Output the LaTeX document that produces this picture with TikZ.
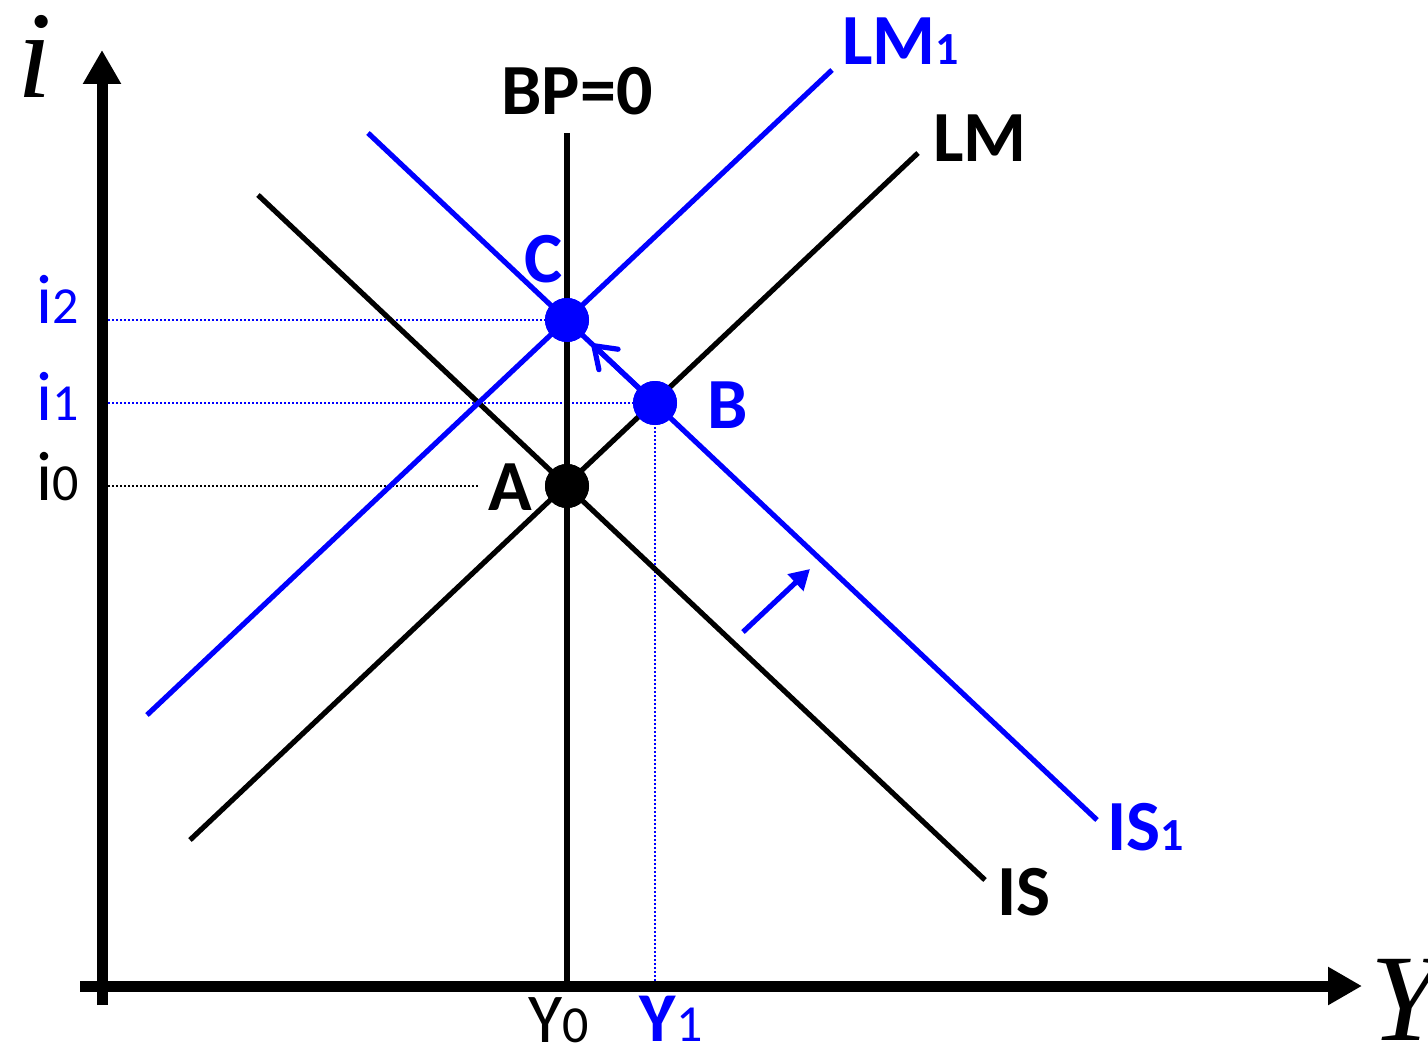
\documentclass[tikz,border=0pt]{standalone}
\usepackage{fontspec}
\setmainfont{Carlito}
\newfontfamily\serifit{Liberation Serif}
\usetikzlibrary{arrows.meta}
\newcommand{\bdg}[1]{{\fontsize{23}{23}\selectfont #1}}
\newcommand{\rdg}[1]{{\fontsize{26}{26}\selectfont\mdseries #1}}
\tikzset{
  curve/.style={line width=2.6pt},
  guide/.style={line width=0.8pt, dash pattern=on 1pt off 1pt},
  eqpt/.style={circle, fill, inner sep=0pt, minimum size=22pt},
  biglab/.style={inner sep=0pt, font=\fontsize{36}{36}\selectfont\bfseries},
  smalllab/.style={inner sep=0pt, font=\fontsize{35}{35}\selectfont},
  axlab/.style={inner sep=0pt, font=\fontsize{62}{62}\selectfont\serifit\itshape}
}
\begin{document}
\begin{tikzpicture}[x=0.5pt, y=-0.5pt]
  \useasboundingbox (0,0) rectangle (1428,1048);
  % ends of the lines
  \coordinate (ibot) at (102,1005);
  \coordinate (itop) at (102,50);
  \coordinate (yleft) at (80,986);
  \coordinate (yright) at (1362,986);
  \coordinate (bptop) at (567,133);
  \coordinate (bpbot) at (567,986);
  \coordinate (lm-s) at (190,840);
  \coordinate (lm-e) at (918,153);
  \coordinate (is-s) at (258,195);
  \coordinate (is-e) at (985,880);
  \coordinate (lmone-s) at (147,715);
  \coordinate (lmone-e) at (832,70);
  \coordinate (isone-s) at (368,133);
  \coordinate (isone-e) at (1097,820);
  \coordinate (y1foot) at (655,986);
  \coordinate (tip) at (592,344);
  \coordinate (sh-s) at (743,632);
  \coordinate (sh-e) at (810,569);
  \foreach \n/\y in {two/320, one/403, zero/486}
    \coordinate (g\n) at (108,\y);
  \coordinate (gzero-e) at (480,486);

  % equilibrium points
  \node[eqpt, blue] (C) at (567,320) {};
  \node[eqpt, blue] (B) at (655,403) {};
  \node[eqpt] (A) at (567,486) {};

  % guides
  \draw[guide, blue] (gtwo) -- (C.center);
  \draw[guide, blue] (gone) -- (B.center);
  \draw[guide] (gzero) -- (gzero-e);
  \draw[guide, blue] (B.center) -- (y1foot);

  % axes
  \draw[line width=5.5pt, -{Triangle[length=17pt,width=18pt]}] (ibot) -- (itop);
  \draw[line width=5.5pt, -{Triangle[length=17pt,width=18pt]}] (yleft) -- (yright);
  \node[axlab] (ilab) at (35,56) {i};
  \node[axlab] (ylab) at (1405,1000) {Y};

  % curves
  \draw[curve] (bptop) -- (bpbot);
  \draw[curve] (lm-s) -- (lm-e);
  \draw[curve] (is-s) -- (is-e);
  \draw[curve, blue] (lmone-s) -- (lmone-e);
  \draw[curve, blue] (isone-s) -- (isone-e);
  \draw[curve, blue, -{Straight Barb[length=10pt,width=14pt,round]}] (B.center) -- (tip);
  \draw[curve, blue, -{Triangle[length=10pt,width=11pt]}] (sh-s) -- (sh-e);

  % points on top
  \node[eqpt, blue] at (C) {};
  \node[eqpt, blue] at (B) {};
  \node[eqpt] at (A) {};

  % labels
  \node[biglab, anchor=base] (bplab) at (577,115) {BP=0};
  \node[biglab, anchor=base west] (lmlab) at (933,162) {LM};
  \node[biglab, anchor=base west] (islab) at (997,915) {IS};
  \node[biglab, anchor=base west, blue] (lmonelab) at (842,65) {LM\bdg{1}};
  \node[biglab, anchor=base west, blue] (isonelab) at (1107,850) {IS\bdg{1}};
  \node[biglab, anchor=base west, blue] (clab) at (524,282) {C};
  \node[biglab, anchor=base east] (alab) at (533,510) {A};
  \node[biglab, anchor=base west, blue] (blab) at (707,428) {B};
  \node[smalllab, anchor=base west, blue] (itwo) at (36,323) {i\rdg{2}};
  \node[smalllab, anchor=base west, blue] (ione) at (36,420) {i\rdg{1}};
  \node[smalllab, anchor=base west] (izero) at (36,500) {i\rdg{0}};
  \node[smalllab, anchor=base west] (yzero) at (528,1042) {Y\rdg{0}};
  \node[smalllab, anchor=base west, blue] (yone) at (639,1041) {\textbf{Y}\rdg{1}};
\end{tikzpicture}
\end{document}
